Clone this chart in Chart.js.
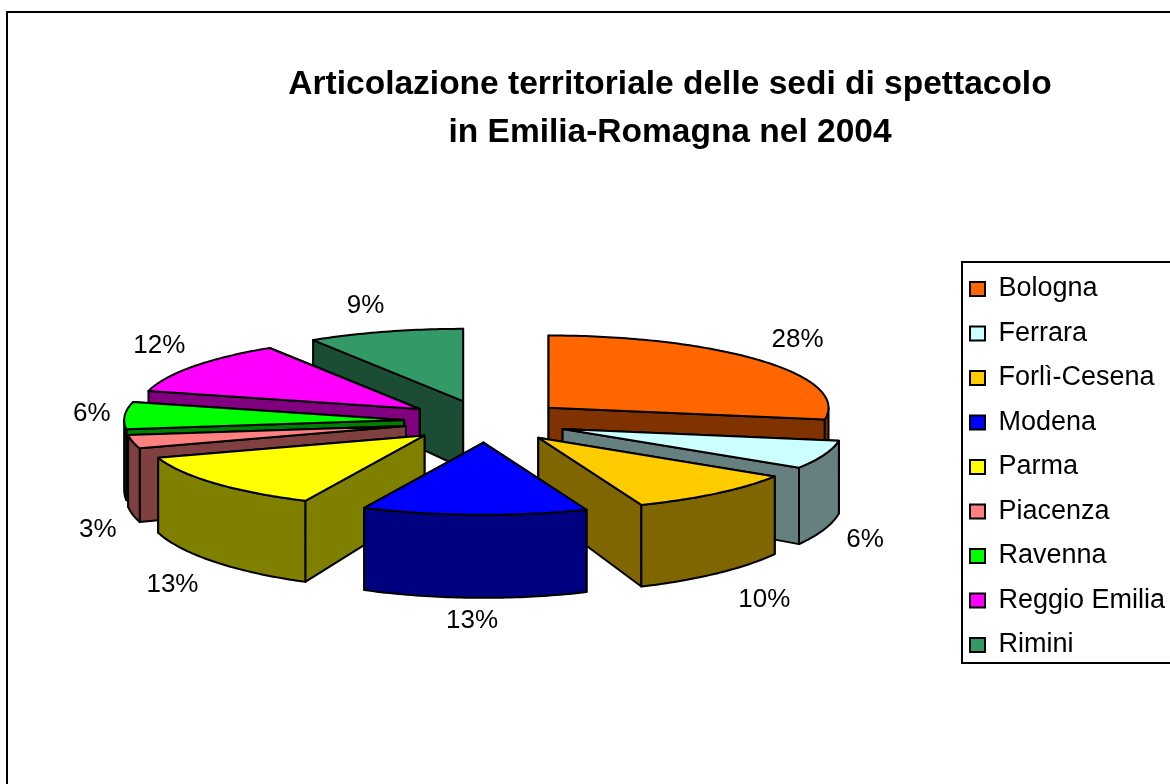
<!DOCTYPE html>
<html>
<head>
<meta charset="utf-8">
<style>html,body{margin:0;padding:0;background:#fff}canvas{display:block}</style>
<script src="https://cdn.jsdelivr.net/npm/chart.js@4"></script>
</head>
<body>
<div style="width:1170px;height:784px"><canvas id="c" width="1170" height="784"></canvas></div>
<script>
const categories = ['Bologna','Ferrara','Forlì-Cesena','Modena','Parma','Piacenza','Ravenna','Reggio Emilia','Rimini'];
const shares = [27.6,6.4,10,13,13,3,6,12,9];
const topColors = ['#FF6600','#CCFFFF','#FFCC00','#0000FF','#FFFF00','#FF8080','#00FF00','#FF00FF','#339966'];
const sideColors = ['#803300','#668080','#806600','#000080','#808000','#804040','#008000','#800080','#1A4D33'];
const titleLines = ['Articolazione territoriale delle sedi di spettacolo','in Emilia-Romagna nel 2004'];

const FONT = '"Liberation Sans", Arial, sans-serif';
const TILT = 0.258, EXPLODE = 82;
const depthAt = y => 67 + (y - 400) * 0.14;
const labelNudgeX = [-1,-4,17,-1,-6,12,15,5,-6];
const labelNudgeY = [-1,-1,7,-1,6,6,0,-2,4];

const pie3d = {
  id: 'pie3d',
  afterLayout(chart) {
    const t = chart.titleBlock; t.left = 170; t.right = 1170;
    const l = chart.legend; l.left = 952.5; l.right = 1400; l.top = 258; l.bottom = 784;
  },
  beforeDraw(chart) {
    const c = chart.ctx;
    c.save();
    c.strokeStyle = '#000'; c.lineWidth = 2;
    c.strokeRect(7, 12, 1400, 1000);
    c.strokeRect(962, 262, 400, 401);
    c.restore();
  },
  beforeDatasetDraw(chart, args) {
    const c = chart.ctx;
    const arcs = args.meta.data;
    const slices = arcs.map((el, i) => {
      const s = el.startAngle, e = el.endAngle, m = (s + e) / 2, R = el.outerRadius;
      const ax = el.x + Math.cos(m) * EXPLODE, ay = el.y + Math.sin(m) * EXPLODE * TILT;
      const P = a => [ax + R * Math.cos(a), ay + R * TILT * Math.sin(a)];
      return {i, s, e, m, ax, ay, P};
    }).sort((a, b) => Math.sin(a.m) - Math.sin(b.m));
    const down = p => [p[0], p[1] + depthAt(p[1])];
    const poly = (pts, fill) => {
      c.beginPath();
      pts.forEach((p, k) => k ? c.lineTo(p[0], p[1]) : c.moveTo(p[0], p[1]));
      c.closePath();
      c.fillStyle = fill; c.fill(); c.stroke();
    };
    c.save();
    c.strokeStyle = '#000'; c.lineWidth = 2; c.lineJoin = 'round';
    for (const sl of slices) {
      const apex = [sl.ax, sl.ay], side = sideColors[sl.i];
      const edges = [sl.s, sl.e].sort((a, b) => Math.sin(a) - Math.sin(b));
      for (const a of edges) {
        const p = sl.P(a);
        poly([apex, p, down(p), down(apex)], side);
      }
      const from = Math.max(sl.s, 0), to = Math.min(sl.e, Math.PI);
      if (to > from) {
        const n = Math.ceil((to - from) * 60), top = [];
        for (let k = 0; k <= n; k++) top.push(sl.P(from + (to - from) * k / n));
        poly(top.concat(top.slice().reverse().map(down)), side);
      }
      const n = Math.ceil((sl.e - sl.s) * 60), face = [apex];
      for (let k = 0; k <= n; k++) face.push(sl.P(sl.s + (sl.e - sl.s) * k / n));
      poly(face, topColors[sl.i]);
    }
    c.restore();
    return false;
  },
  afterDatasetsDraw(chart) {
    const c = chart.ctx, arcs = chart.getDatasetMeta(0).data;
    c.save();
    c.font = '26px ' + FONT; c.fillStyle = '#000';
    c.textAlign = 'center'; c.textBaseline = 'middle';
    arcs.forEach((el, i) => {
      const m = (el.startAngle + el.endAngle) / 2;
      const x = el.x + 410 * Math.cos(m) + labelNudgeX[i];
      const y = el.y + 125 * Math.sin(m) + (Math.sin(m) > 0 ? 75 : 0) + labelNudgeY[i];
      c.fillText(Math.round(shares[i]) + '%', x, y);
    });
    c.restore();
  }
};

new Chart(document.getElementById('c'), {
  type: 'pie',
  data: {
    labels: categories,
    datasets: [{data: shares, backgroundColor: topColors, borderColor: '#000', borderWidth: 2}]
  },
  options: {
    responsive: false,
    animation: false,
    radius: 280,
    layout: {padding: {left: 0, right: 198, top: 0, bottom: 98}},
    plugins: {
      tooltip: {enabled: false},
      title: {
        display: true,
        text: titleLines,
        color: '#000',
        font: {family: FONT, size: 33.5, weight: 'bold', lineHeight: 1.43},
        padding: {top: 61, bottom: 0}
      },
      legend: {
        position: 'chartArea',
        align: 'start',
        labels: {
          color: '#000',
          font: {family: FONT, size: 27},
          boxWidth: 15, boxHeight: 14, padding: 17.5
        }
      }
    }
  },
  plugins: [pie3d]
});
</script>
</body>
</html>
